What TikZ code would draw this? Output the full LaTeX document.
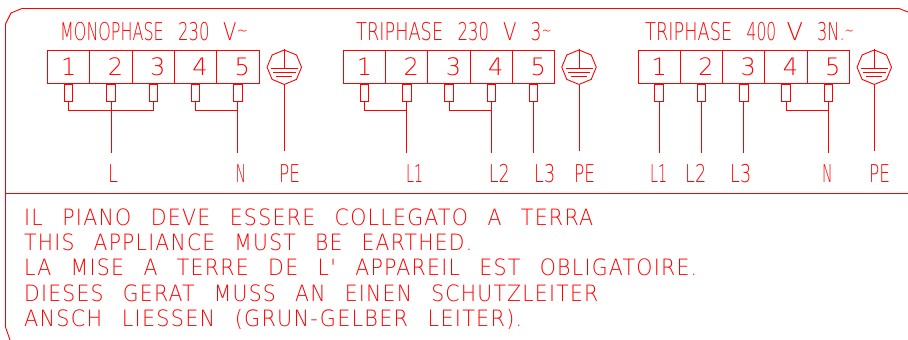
\documentclass[tikz,border=0pt]{standalone}
\usepackage{fontspec}
\usepackage{graphicx}
\usetikzlibrary{shapes.geometric}
\newfontfamily\cadfont{DejaVu Sans ExtraLight}
\newfontfamily\cadwide[WordSpace=2.5,LetterSpace=6]{DejaVu Sans ExtraLight}
\definecolor{cad}{RGB}{255,0,0}
\newcommand{\fitw}[2]{\resizebox{#1pt}{\height}{#2}}
\newcommand{\wave}{\raisebox{3pt}{\scalebox{0.7}{\char`~}}}
\tikzset{
  cadline/.style={draw=cad,line width=0.9pt},
  cell/.style={cadline,minimum width=42.3pt,minimum height=33.5pt,inner sep=0pt,text=cad,font=\cadfont\fontsize{24}{24}\selectfont},
  tabbox/.style={cadline,minimum width=8.5pt,minimum height=17pt,inner sep=0pt},
  gnd/.style={cadline,regular polygon,regular polygon sides=8,shape border rotate=22.5,minimum size=34.5pt,inner sep=0pt},
  lab/.style={text=cad,anchor=base west,inner sep=0pt,font=\cadfont\fontsize{24.5}{24}\selectfont},
  body/.style={text=cad,anchor=base west,inner sep=0pt,font=\cadwide\fontsize{22.5}{24}\selectfont}
}
\newcommand{\termblock}[2]{%
  \foreach \n/\dx in {1/21.15,2/63.45,3/105.75,4/148.05,5/190.35}{
    \pgfmathsetmacro{\cx}{#2+\dx}
    \ifnum\n=1\relax
      \node[cell] (#1c\n) at (\cx,66.8) {\n};
    \else
      \node[cell] (#1c\n) at (\cx,66.8) {\hspace{9pt}\n};
    \fi
    \node[tabbox,anchor=north] (#1t\n) at (#1c\n.south) {};
    \coordinate (#1b\n) at ([yshift=-9pt]#1t\n.south);
    \coordinate (#1e\n) at ([yshift=-51pt]#1t\n.south);
  }
}
\newcommand{\earth}[2]{%
  \node[gnd] (#1) at (#2,67.2) {};
  \coordinate (#1a) at (#2,68.3);
  \coordinate (#1end) at (#2,151);
  \draw[cadline] (#1.north) -- (#1a);
  \draw[cadline] (#2-13.5,68.3) -- (#2+13.5,68.3);
  \draw[cadline] (#2-11.2,72.3) -- (#2+11.2,72.3);
  \draw[cadline] (#2-8,76.3) -- (#2+8,76.3);
  \draw[cadline] (#1.south) -- (#1end);
}
\begin{document}
\begin{tikzpicture}[x=1pt,y=-1pt]
\useasboundingbox (0,0) rectangle (908,340);
% frame
\draw[cadline] (10,340) -- (5.5,327) -- (5.5,24) -- (11,13) -- (22,8.5) -- (899,8.5) -- (908,12);
\draw[cadline] (5.5,193.5) -- (908,193.5);
% titles
\node[lab] (title1) at (60,40) {\fitw{103.5}{MONOPHASE}\hspace{14.5pt}\fitw{31.5}{230}\hspace{13.5pt}\fitw{25}{V\wave}};
\node[lab] (title2) at (356,40) {\fitw{87}{TRIPHASE}\hspace{14.5pt}\fitw{31.5}{230}\hspace{14pt}\fitw{13.5}{V}\hspace{14pt}\fitw{21}{3\wave}};
\node[lab] (title3) at (645,40) {\fitw{87}{TRIPHASE}\hspace{14.5pt}\fitw{29.5}{400}\hspace{10.5pt}\fitw{16.5}{V}\hspace{14pt}\fitw{37}{3N.\wave}};
% blocks
\termblock{a}{47.5}
\termblock{b}{343.3}
\termblock{c}{638}
\earth{ga}{284.3}
\earth{gb}{579}
\earth{gc}{874.3}
% block 1 wiring
\draw[cadline] (at1.south) -- (ab1) -- (at3.south |- ab1) -- (at3.south);
\draw[cadline] (at2.south) -- (ae2);
\draw[cadline] (at4.south) -- (ab4) -- (at5.south |- ab4);
\draw[cadline] (at5.south) -- (ae5);
% block 2 wiring
\draw[cadline] (bt1.south) -- (bb1) -- (bb2);
\draw[cadline] (bt2.south) -- (be2);
\draw[cadline] (bt3.south) -- (bb3) -- (bb4);
\draw[cadline] (bt4.south) -- (be4);
\draw[cadline] (bt5.south) -- (be5);
% block 3 wiring
\draw[cadline] (ct1.south) -- (ce1);
\draw[cadline] (ct2.south) -- (ce2);
\draw[cadline] (ct3.south) -- (ce3);
\draw[cadline] (ct4.south) -- (cb4) -- (cb5);
\draw[cadline] (ct5.south) -- (ce5);
% labels
\node[lab] (la1) at (108,182) {\fitw{10}{L}};
\node[lab] (la2) at (235.5,182) {\fitw{10.5}{N}};
\node[lab] (la3) at (279,182) {\fitw{21}{PE}};
\node[lab] (lb1) at (406,182) {\fitw{17}{L1}};
\node[lab] (lb2) at (488.7,182) {\fitw{21}{L2}};
\node[lab] (lb3) at (534,182) {\fitw{21}{L3}};
\node[lab] (lb4) at (574,182) {\fitw{21}{PE}};
\node[lab] (lc1) at (650,182) {\fitw{17}{L1}};
\node[lab] (lc2) at (685,182) {\fitw{21}{L2}};
\node[lab] (lc3) at (730,182) {\fitw{21}{L3}};
\node[lab] (lc4) at (822,182) {\fitw{10.5}{N}};
\node[lab] (lc5) at (869,182) {\fitw{21}{PE}};
% notes
\node[body] (n1) at (24,225.7) {\fitw{569}{IL PIANO DEVE ESSERE COLLEGATO A TERRA}};
\node[body] (n2) at (24,250.7) {\fitw{448}{THIS APPLIANCE MUST BE EARTHED.}};
\node[body] (n3) at (24,275.7) {\fitw{673}{LA MISE A TERRE DE L' APPAREIL EST OBLIGATOIRE.}};
\node[body] (n4) at (24,301) {\fitw{574}{DIESES GERAT MUSS AN EINEN SCHUTZLEITER}};
\node[body] (n5) at (24,326) {\fitw{498}{ANSCH LIESSEN (GRUN-GELBER LEITER).}};
\end{tikzpicture}
\end{document}
